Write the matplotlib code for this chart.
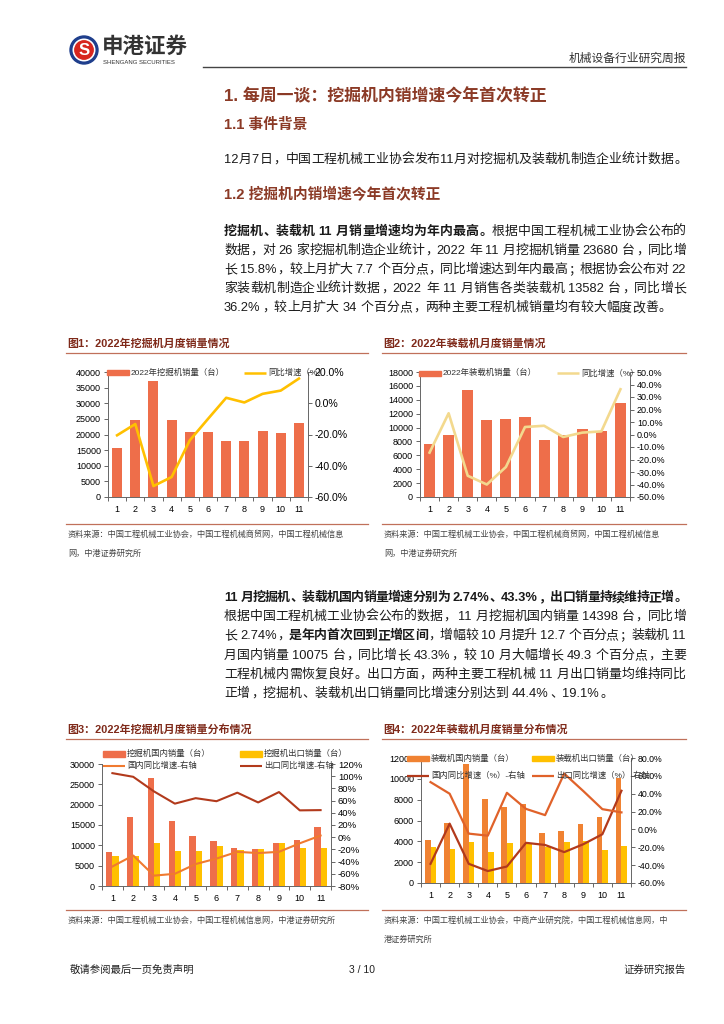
import matplotlib
matplotlib.use('Agg')
import matplotlib.pyplot as plt
from matplotlib.patches import Rectangle, Circle
from matplotlib.ticker import FuncFormatter
import numpy as np

plt.rcParams['font.family'] = ['Liberation Sans', 'Noto Sans CJK SC']

months = [1, 2, 3, 4, 5, 6, 7, 8, 9, 10, 11]
month_labels = [str(m) for m in months]

exc_sales = [15690, 24483, 37085, 24534, 20761, 20761, 18039, 18018, 21207, 20541, 23680]
exc_yoy = [-20.5, -13.3, -53.0, -47.2, -23.7, -10.0, 3.5, 0.5, 6.0, 8.1, 15.8]

ldr_sales = [7640, 8930, 15380, 11080, 11170, 11560, 8210, 8880, 9790, 9550, 13582]
ldr_yoy = [-14.5, 17.0, -33.0, -40.0, -26.0, 6.0, 7.0, -2.0, 1.5, 2.5, 36.2]

exc_dom = [8320, 17005, 26536, 15970, 12230, 10996, 9237, 9011, 10620, 11300, 14398]
exc_exp = [7369, 7478, 10549, 8564, 8531, 9765, 8802, 9007, 10587, 9241, 9282]
exc_dom_yoy = [-48, -30, -63, -60, -44, -35, -24, -26, -24, -10, 2.74]
exc_exp_yoy = [105, 99, 75, 55, 64, 59, 73, 57, 74, 44, 44.4]

ldr_dom = [4110, 5730, 11400, 8090, 7260, 7580, 4840, 4970, 5640, 6310, 10075]
ldr_exp = [3500, 3250, 3950, 2960, 3850, 3790, 3470, 3920, 4080, 3150, 3507]
ldr_dom_yoy = [-38.5, 6.5, -38.5, -46.6, -41.5, -15.0, -17.4, -25.4, -16.6, -5.4, 43.3]
ldr_exp_yoy = [53, 40, -4.7, -7, 41, 23, 16, 62.5, 43, 22.7, 19.1]

# colours
RED_BAR = '#EE6E4A'
ORANGE_BAR = '#F08232'
YELLOW = '#FFC000'
PALE = '#F3D98E'
DARKRED = '#B23A1C'
ORANGE_LINE = '#F07A30'
BROWN = '#8B3A26'
CAP = '#7F2A1A'
RULE = '#C0705A'
AXC = '#666666'

fig = plt.figure(figsize=(7.24, 10.24), dpi=100)
page = fig.add_axes([0, 0, 1, 1])
page.set_xlim(0, 724)
page.set_ylim(1024, 0)
page.axis('off')
renderer = fig.canvas.get_renderer()

# ---- header ----
page.add_patch(Circle((84, 50), 14, color='#1E3E8C'))
page.add_patch(Circle((84, 50), 10.8, color='white'))
page.add_patch(Circle((84, 50), 9.2, color='#D7261E'))
page.text(84, 50.5, 'S', fontsize=12, fontweight='bold', color='white', ha='center', va='center')
page.text(102, 47, '申港证券', fontsize=15.5, fontweight='bold', color='#333333', va='center')
page.text(103, 62.5, 'SHENGANG SECURITIES', fontsize=4.3, color='#333333', va='center')
page.text(686, 59, '机械设备行业研究周报', fontsize=8.5, color='#333333', ha='right', va='center')
page.plot([203, 686], [67, 67], color='#444444', lw=1)

# ---- body text helpers ----
PUNCT = set('，。；：、')


def tokens(s):
    out, buf = [], ''
    for ch in s:
        if ch == ' ':
            if buf:
                out.append(buf)
                buf = ''
            out.append(' ')
        elif ord(ch) < 128:
            buf += ch
        else:
            if buf:
                out.append(buf)
                buf = ''
            out.append(ch)
    if buf:
        out.append(buf)
    return out


def put_line(y, segs, x0=224, x1=686, fs=9.3, justify=True, color='#1a1a1a'):
    em = fs * 100 / 72
    items = []
    for s, bold in segs:
        w8 = 'bold' if bold else 'normal'
        for tk in tokens(s):
            if tk == ' ':
                items.append((None, em * 0.28, None))
            elif ord(tk[0]) < 128:
                t = page.text(0, y, tk, fontsize=fs, fontweight=w8, color=color, va='center', ha='left')
                items.append((t, t.get_window_extent(renderer).width + em * 0.04, 'l'))
            else:
                ha = 'left' if tk in PUNCT else 'center'
                t = page.text(0, y, tk, fontsize=fs, fontweight=w8, color=color, va='center', ha=ha)
                items.append((t, em, 'p' if tk in PUNCT else 'c'))
    total = sum(w for _, w, _ in items)
    gap = (x1 - x0 - total) / (len(items) - 1) if justify and len(items) > 1 else 0
    x = x0
    for t, w, kind in items:
        if t is not None:
            if kind == 'c':
                t.set_x(x + w / 2)
            elif kind == 'p':
                t.set_x(x + em * 0.08)
            else:
                t.set_x(x)
        x += w + gap


page.text(224, 96, '1. 每周一谈：挖掘机内销增速今年首次转正', fontsize=12.2, fontweight='bold', color=BROWN, va='center')
page.text(224, 125, '1.1 事件背景', fontsize=10.6, fontweight='bold', color=BROWN, va='center')
put_line(160, [('12月7日，中国工程机械工业协会发布11月对挖掘机及装载机制造企业统计数据。', False)])
page.text(224, 195, '1.2 挖掘机内销增速今年首次转正', fontsize=10.6, fontweight='bold', color=BROWN, va='center')

put_line(232, [('挖掘机、装载机 11 月销量增速均为年内最高。', True), ('根据中国工程机械工业协会公布的', False)])
put_line(251, [('数据，对 26 家挖掘机制造企业统计，2022 年 11 月挖掘机销量 23680 台，同比增', False)])
put_line(270, [('长 15.8%，较上月扩大 7.7 个百分点，同比增速达到年内最高；根据协会公布对 22', False)])
put_line(289, [('家装载机制造企业统计数据，2022 年 11 月销售各类装载机 13582 台，同比增长', False)])
put_line(308, [('36.2%，较上月扩大 34 个百分点，两种主要工程机械销量均有较大幅度改善。', False)], justify=False)

put_line(598, [('11 月挖掘机、装载机国内销量增速分别为 2.74%、43.3%，出口销量持续维持正增。', True)])
put_line(617, [('根据中国工程机械工业协会公布的数据， 11 月挖掘机国内销量 14398 台，同比增', False)])
put_line(636, [('长 2.74%，', False), ('是年内首次回到正增区间', True), ('，增幅较 10 月提升 12.7 个百分点；装载机 11', False)])
put_line(656, [('月国内销量 10075 台，同比增长 43.3%，较 10 月大幅增长 49.3 个百分点，主要', False)])
put_line(675, [('工程机械内需恢复良好。出口方面，两种主要工程机械 11 月出口销量均维持同比', False)])
put_line(694, [('正增，挖掘机、装载机出口销量同比增速分别达到 44.4%、19.1%。', False)], justify=False)

# ---- captions / sources ----
def caption(x, y, text, x1):
    page.text(x + 1, y, text, fontsize=7.9, fontweight='bold', color=CAP, va='center')
    page.plot([x, x1], [y + 9, y + 9], color=RULE, lw=0.9)


def source(x, y, lines, x1, y_rule):
    page.plot([x, x1], [y_rule, y_rule], color=RULE, lw=0.9)
    for i, ln in enumerate(lines):
        page.text(x + 2, y + i * 18.5, ln, fontsize=5.9, color='#444444', va='center')


caption(66, 344, '图1：2022年挖掘机月度销量情况', 368)
caption(382, 344, '图2：2022年装载机月度销量情况', 686)
caption(66, 730, '图3：2022年挖掘机月度销量分布情况', 368)
caption(382, 730, '图4：2022年装载机月度销量分布情况', 686)

source(66, 535, ['资料来源：中国工程机械工业协会，中国工程机械商贸网，中国工程机械信息', '网，中港证券研究所'], 368, 524)
source(382, 535, ['资料来源：中国工程机械工业协会，中国工程机械商贸网，中国工程机械信息', '网，中港证券研究所'], 686, 524)
source(66, 921, ['资料来源：中国工程机械工业协会，中国工程机械信息网，中港证券研究所'], 368, 910)
source(382, 921, ['资料来源：中国工程机械工业协会，中商产业研究院，中国工程机械信息网，中', '港证券研究所'], 686, 910)

# ---- footer ----
page.text(70, 970, '敬请参阅最后一页免责声明', fontsize=7.5, color='#222222', va='center')
page.text(362, 970, '3 / 10', fontsize=7.5, color='#222222', va='center', ha='center')
page.text(686, 970, '证券研究报告', fontsize=7.5, color='#222222', va='center', ha='right')


# ---- charts ----
def make_axes(l, t, r, b):
    ax = fig.add_axes([l / 724, 1 - b / 1024, (r - l) / 724, (b - t) / 1024])
    ax.patch.set_alpha(0)
    return ax


def style(ax, ax2, lfs, rfs):
    ax.spines['top'].set_visible(False)
    ax.spines['right'].set_visible(False)
    ax2.spines['top'].set_visible(False)
    ax2.spines['left'].set_visible(False)
    ax2.spines['bottom'].set_visible(False)
    for s in ['left', 'bottom']:
        ax.spines[s].set_color(AXC)
        ax.spines[s].set_linewidth(0.7)
    ax2.spines['right'].set_color(AXC)
    ax2.spines['right'].set_linewidth(0.7)
    ax.set_xlim(0.5, 11.5)
    ax.set_xticks(months)
    ax.set_xticklabels(month_labels)
    ax.set_xticks(np.arange(0.5, 12, 1), minor=True)
    ax.tick_params(axis='x', which='major', length=0, labelsize=lfs, pad=6)
    ax.tick_params(axis='x', which='minor', length=3, color=AXC, width=0.7)
    ax.tick_params(axis='y', length=3, labelsize=lfs, color=AXC, width=0.7, pad=2)
    ax2.tick_params(axis='y', length=3, labelsize=rfs, color=AXC, width=0.7, pad=2)


# chart 1
ax1 = make_axes(108, 372, 308, 497)
ax1.bar(months, exc_sales, width=0.55, color=RED_BAR)
ax1.set_ylim(0, 40000)
ax1.set_yticks(range(0, 40001, 5000))
ax1b = ax1.twinx()
ax1b.plot(months, exc_yoy, color=YELLOW, lw=1.9)
ax1b.set_ylim(-60, 20)
ax1b.set_yticks(range(-60, 21, 20))
ax1b.yaxis.set_major_formatter(FuncFormatter(lambda v, p: f'{v:.1f}%'))
style(ax1, ax1b, 6.5, 7.6)

# chart 2
ax2 = make_axes(420, 372, 630, 497)
ax2.bar(months, ldr_sales, width=0.58, color=RED_BAR)
ax2.set_ylim(0, 18000)
ax2.set_yticks(range(0, 18001, 2000))
ax2b = ax2.twinx()
ax2b.plot(months, ldr_yoy, color=PALE, lw=1.9)
ax2b.set_ylim(-50, 50)
ax2b.set_yticks(range(-50, 51, 10))
ax2b.yaxis.set_major_formatter(FuncFormatter(lambda v, p: f'{v:.1f}%'))
style(ax2, ax2b, 6.5, 6.5)

# chart 3
x = np.array(months)
ax3 = make_axes(102, 764, 331, 886)
ax3.bar(x - 0.15, exc_dom, width=0.3, color=RED_BAR)
ax3.bar(x + 0.15, exc_exp, width=0.3, color=YELLOW)
ax3.set_ylim(0, 30000)
ax3.set_yticks(range(0, 30001, 5000))
ax3b = ax3.twinx()
ax3b.plot(months, exc_dom_yoy, color=ORANGE_LINE, lw=1.5)
ax3b.plot(months, exc_exp_yoy, color=DARKRED, lw=1.5)
ax3b.set_ylim(-80, 120)
ax3b.set_yticks(range(-80, 121, 20))
ax3b.yaxis.set_major_formatter(FuncFormatter(lambda v, p: f'{v:.0f}%'))
style(ax3, ax3b, 6.5, 6.8)

# chart 4
ax4 = make_axes(421, 758, 631, 883)
ax4.bar(x - 0.15, ldr_dom, width=0.3, color=ORANGE_BAR)
ax4.bar(x + 0.15, ldr_exp, width=0.3, color=YELLOW)
ax4.set_ylim(0, 12000)
ax4.set_yticks(range(0, 12001, 2000))
ax4b = ax4.twinx()
ax4b.plot(months, ldr_dom_yoy, color=DARKRED, lw=1.6)
ax4b.plot(months, ldr_exp_yoy, color='#E0622A', lw=1.6)
ax4b.set_ylim(-60, 80)
ax4b.set_yticks(range(-60, 81, 20))
ax4b.yaxis.set_major_formatter(FuncFormatter(lambda v, p: f'{v:.1f}%'))
style(ax4, ax4b, 6.5, 6.3)

# ---- legends (overlay) ----
top = fig.add_axes([0, 0, 1, 1])
top.set_xlim(0, 724)
top.set_ylim(1024, 0)
top.axis('off')


def leg_bar(x, y, color, label):
    top.add_patch(Rectangle((x, y - 2.6), 22, 5.2, color=color))
    top.text(x + 24, y, label, fontsize=6, color='#333333', va='center')


def leg_line(x, y, color, label, lw=1.8):
    top.plot([x, x + 22], [y, y], color=color, lw=lw, solid_capstyle='butt')
    top.text(x + 24, y, label, fontsize=6, color='#333333', va='center')


leg_bar(107, 372.7, RED_BAR, '2022年挖掘机销量（台）')
leg_line(244, 372.7, YELLOW, '同比增速（%）')
leg_bar(419, 373.3, RED_BAR, '2022年装载机销量（台）')
leg_line(557, 373.3, PALE, '同比增速（%）')

leg_bar(103, 754, RED_BAR, '挖掘机国内销量（台）')
leg_bar(240, 754, YELLOW, '挖掘机出口销量（台）')
leg_line(103, 765.5, ORANGE_LINE, '国内同比增速-右轴', lw=1.5)
leg_line(240, 765.5, DARKRED, '出口同比增速-右轴', lw=1.5)

leg_bar(407, 758.5, ORANGE_BAR, '装载机国内销量（台）')
leg_bar(532, 758.5, YELLOW, '装载机出口销量（台）')
leg_line(407, 776, DARKRED, '国内同比增速（%）-右轴', lw=1.6)
leg_line(532, 776, '#E0622A', '出口同比增速（%）-右轴', lw=1.6)

fig.savefig('out.png', dpi=100)
